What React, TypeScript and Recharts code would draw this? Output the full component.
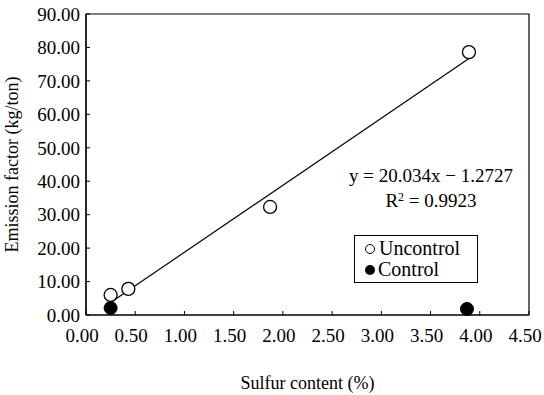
import React from 'react';
import { ScatterChart, Scatter, XAxis, YAxis, ReferenceArea, Label } from 'recharts';

const uncontrolX = [0.25, 0.43, 1.87, 3.89];
const uncontrolY = [6.0, 7.8, 32.3, 78.6];
const controlX = [0.25, 3.87];
const controlY = [2.1, 1.8];
const fitX = [0.25, 3.89];
const fitY = [3.74, 76.66];
const xTicks = [0, 0.5, 1, 1.5, 2, 2.5, 3, 3.5, 4, 4.5];
const yTicks = [0, 10, 20, 30, 40, 50, 60, 70, 80, 90];
const equationText = 'y = 20.034x \u2212 1.2727';
const r2Value = '0.9923';
const seriesNames = ['Uncontrol', 'Control'];

const uncontrol = uncontrolX.map((x, i) => ({ x, y: uncontrolY[i] }));
const control = controlX.map((x, i) => ({ x, y: controlY[i] }));
const fit = fitX.map((x, i) => ({ x, y: fitY[i] }));

const FONT = "'Liberation Serif', 'Times New Roman', Tinos, 'DejaVu Serif'";

const OpenCircle = (p: any) => (
  <circle cx={p.cx} cy={p.cy} r={6.5} fill="#fff" stroke="#000" strokeWidth={1.3} />
);
const FilledCircle = (p: any) => (
  <circle cx={p.cx} cy={p.cy} r={6.5} fill="#000" stroke="#000" strokeWidth={1} />
);
const NoShape = () => <g />;

export default function App() {
  const xTickStyle = { fill: '#000', fontSize: 19, fontFamily: FONT, dx: -4, style: { fontFamily: FONT } };
  const yTickStyle = { fill: '#000', fontSize: 19, fontFamily: FONT, style: { fontFamily: FONT } };
  return (
    <div style={{ position: 'absolute', left: 0, top: 0, width: 544, height: 395, background: '#fff', fontFamily: FONT }}>
      <ScatterChart width={544} height={395} margin={{ top: 14, right: 15, left: 0, bottom: 0 }} style={{ fontFamily: FONT }}>
        <XAxis
          type="number"
          dataKey="x"
          domain={[0, 4.5]}
          ticks={xTicks}
          tickFormatter={(v: number) => v.toFixed(2)}
          tick={xTickStyle}
          tickSize={-4}
          tickMargin={18}
          height={80}
          stroke="#000"
          axisLine={{ stroke: '#000', strokeWidth: 1.2 }}
          tickLine={{ stroke: '#000' }}
          interval={0}
        >
          <Label
            value="Sulfur content (%)"
            position="insideBottom"
            offset={6}
            style={{ fill: '#000', fontSize: 18, fontFamily: FONT }}
          />
        </XAxis>
        <YAxis
          type="number"
          dataKey="y"
          domain={[0, 90]}
          ticks={yTicks}
          tickFormatter={(v: number) => v.toFixed(2)}
          tick={yTickStyle}
          tickSize={-4}
          tickMargin={10}
          width={86}
          axisLine={{ stroke: '#000', strokeWidth: 1.2 }}
          tickLine={{ stroke: '#000' }}
          interval={0}
        >
          <Label
            value="Emission factor (kg/ton)"
            angle={-90}
            position="center"
            dx={-31}
            style={{ fill: '#000', fontSize: 18, fontFamily: FONT, textAnchor: 'middle' }}
          />
        </YAxis>
        <ReferenceArea x1={0} x2={4.5} y1={0} y2={90} fill="none" stroke="#000" strokeWidth={1.2} ifOverflow="visible" />
        <Scatter data={fit} line={{ stroke: '#000', strokeWidth: 1.2 }} shape={NoShape} isAnimationActive={false} />
        <Scatter data={uncontrol} shape={OpenCircle} isAnimationActive={false} />
        <Scatter data={control} shape={FilledCircle} isAnimationActive={false} />
      </ScatterChart>
      <div style={{ position: 'absolute', left: 331, top: 163, width: 200, textAlign: 'center', fontSize: 19, lineHeight: '25px', color: '#000' }}>
        <div>{equationText}</div>
        <div>
          R<sup style={{ fontSize: 12, verticalAlign: 'top', position: 'relative', top: -3 }}>2</sup> = {r2Value}
        </div>
      </div>
      <div style={{ position: 'absolute', left: 354, top: 235, width: 124, height: 48, boxSizing: 'border-box', border: '1px solid #000', fontSize: 20, color: '#000', paddingLeft: 10, paddingTop: 2 }}>
        <div style={{ display: 'flex', alignItems: 'center', height: 21 }}>
          <span style={{ display: 'inline-block', width: 8, height: 8, borderRadius: '50%', border: '1px solid #000', marginRight: 4 }} />
          <span>{seriesNames[0]}</span>
        </div>
        <div style={{ display: 'flex', alignItems: 'center', height: 21 }}>
          <span style={{ display: 'inline-block', width: 10, height: 10, borderRadius: '50%', background: '#000', marginRight: 3 }} />
          <span>{seriesNames[1]}</span>
        </div>
      </div>
    </div>
  );
}
